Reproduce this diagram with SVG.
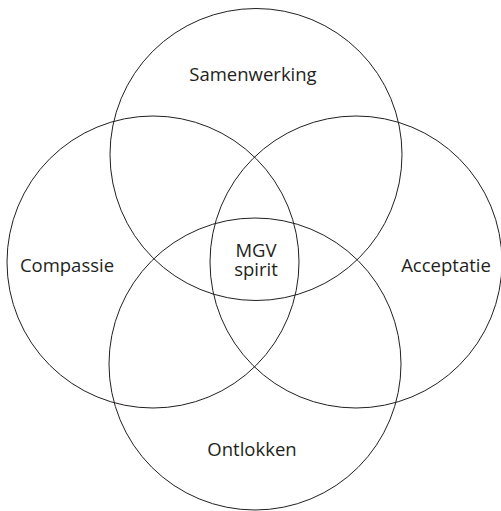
<svg xmlns="http://www.w3.org/2000/svg" width="501" height="511" viewBox="0 0 501 511">
<style>
.c{fill:none;stroke:#231f20;stroke-width:1}
.t{font-family:"Open Sans","Noto Sans",sans-serif;font-size:18.5px;fill:#231f20;text-anchor:middle}
</style>
<rect width="501" height="511" fill="#fff"/>
<g id="samenwerking"><circle class="c" cx="256" cy="154.5" r="146"/><text class="t" x="253" y="81">Samenwerking</text></g>
<g id="compassie"><circle class="c" cx="153" cy="262" r="146"/><text class="t" x="67" y="272">Compassie</text></g>
<g id="acceptatie"><circle class="c" cx="356" cy="262" r="146"/><text class="t" x="446" y="272">Acceptatie</text></g>
<g id="ontlokken"><circle class="c" cx="255" cy="364" r="146"/><text class="t" x="252" y="456">Ontlokken</text></g>
<g id="mgv"><text class="t" x="256" y="257">MGV</text><text class="t" x="256" y="276">spirit</text></g>
</svg>
